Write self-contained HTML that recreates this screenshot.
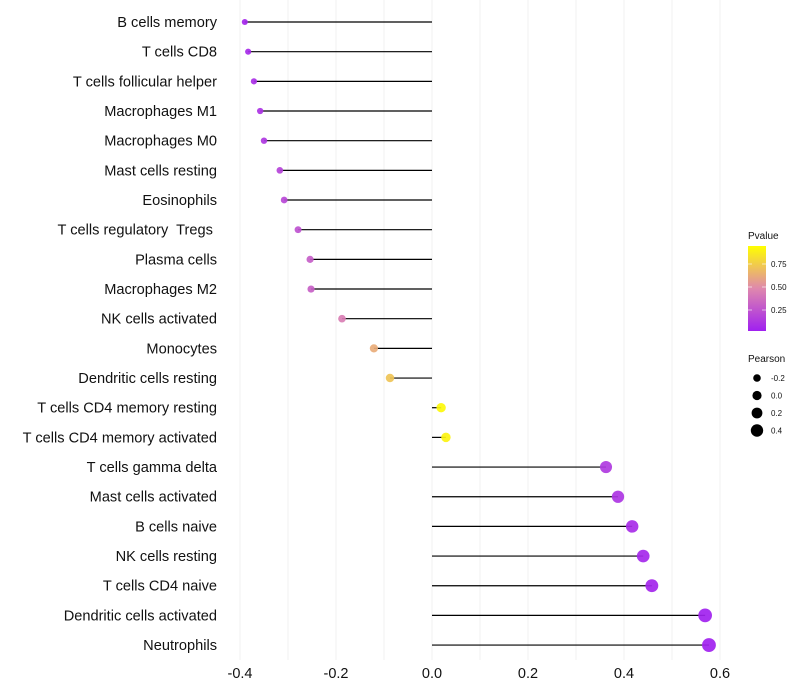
<!DOCTYPE html>
<html><head><meta charset="utf-8"><style>
body{margin:0;background:#fff}
svg{display:block;font-family:"Liberation Sans",sans-serif}
text{white-space:pre}
</style></head><body>
<svg id="chart" width="800" height="700"></svg>
<script>
const categories=["B cells memory","T cells CD8","T cells follicular helper","Macrophages M1","Macrophages M0","Mast cells resting","Eosinophils","T cells regulatory  Tregs ","Plasma cells","Macrophages M2","NK cells activated","Monocytes","Dendritic cells resting","T cells CD4 memory resting","T cells CD4 memory activated","T cells gamma delta","Mast cells activated","B cells naive","NK cells resting","T cells CD4 naive","Dendritic cells activated","Neutrophils"];
const pearson=[-0.39,-0.383,-0.371,-0.358,-0.35,-0.317,-0.308,-0.279,-0.254,-0.252,-0.1875,-0.121,-0.0875,0.019,0.029,0.3625,0.3875,0.417,0.44,0.458,0.569,0.577];
const pvalues=[0.03,0.05,0.07,0.09,0.11,0.17,0.19,0.24,0.3,0.31,0.45,0.65,0.75,0.97,0.95,0.12,0.1,0.06,0.04,0.03,0.01,0.005];
const xTicks=[-0.4,-0.2,0.0,0.2,0.4,0.6];
const gridVals=[-0.4,-0.3,-0.2,-0.1,0,0.1,0.2,0.3,0.4,0.5,0.6];
const pTicks=[0.25,0.5,0.75];
const sizeTicks=[-0.2,0.0,0.2,0.4];

const NS="http://www.w3.org/2000/svg";
const svg=document.getElementById('chart');
function mk(t,a,p){const e=document.createElementNS(NS,t);for(const k in a)e.setAttribute(k,a[k]);(p||svg).appendChild(e);return e;}
const x=v=>432+v*480;
const y=i=>22+i*29.67;
const r=v=>4.6+4*v;
function hex(h){return [1,3,5].map(i=>parseInt(h.substr(i,2),16));}
const stops=[[0,hex('#a020f0')],[0.5,hex('#df88ad')],[1,hex('#ffff00')]];
function col(p){let a=stops[0],b=stops[1];if(p>0.5){a=stops[1];b=stops[2];}const t=(p-a[0])/(b[0]-a[0]);return 'rgb('+a[1].map((c,k)=>Math.round(c+(b[1][k]-c)*t)).join(',')+')';}

gridVals.forEach(g=>{const l=mk('line',{x1:x(g),x2:x(g),y1:0,y2:660,stroke:'#f0f0f0','stroke-width':1});

});
xTicks.forEach(t=>{const e=mk('text',{x:x(t),y:678,'text-anchor':'middle','font-size':14.5,fill:'#111'});e.textContent=t.toFixed(1);

});
categories.forEach((c,i)=>{
const e=mk('text',{x:217,y:y(i)+5,'text-anchor':'end','font-size':14.6,fill:'#111'});e.textContent=c;


const l=mk('line',{x1:x(0),x2:x(pearson[i]),y1:y(i),y2:y(i),stroke:'#000','stroke-width':1.2});


const d=mk('circle',{cx:x(pearson[i]),cy:y(i),r:r(pearson[i]),fill:col(pvalues[i]),'fill-opacity':0.92});


});
const g=mk('g',{});


let t=mk('text',{x:748,y:239,'font-size':10,fill:'#111'},g);t.textContent='Pvalue';
const defs=mk('defs',{});const lg=mk('linearGradient',{id:'pg',x1:0,y1:1,x2:0,y2:0},defs);
[0,0.5,1].forEach(o=>mk('stop',{offset:o,'stop-color':col(o)},lg));
const bar=mk('rect',{x:748,y:246,width:18,height:85,fill:'url(#pg)'},g);


pTicks.forEach(p=>{const yy=333-p*92;mk('line',{x1:748,x2:752,y1:yy,y2:yy,stroke:'#fff','stroke-opacity':0.6},g);mk('line',{x1:762,x2:766,y1:yy,y2:yy,stroke:'#fff','stroke-opacity':0.6},g);
const tt=mk('text',{x:771,y:yy+3,'font-size':8,fill:'#111'},g);tt.textContent=p.toFixed(2);});
t=mk('text',{x:748,y:362,'font-size':10,fill:'#111'},g);t.textContent='Pearson';
sizeTicks.forEach((s,k)=>{const yy=378+k*17.5;const c=mk('circle',{cx:757,cy:yy,r:r(s),fill:'#000'},g);


const tt=mk('text',{x:771,y:yy+3,'font-size':8,fill:'#111'},g);tt.textContent=s.toFixed(1);});
</script>
</body></html>
